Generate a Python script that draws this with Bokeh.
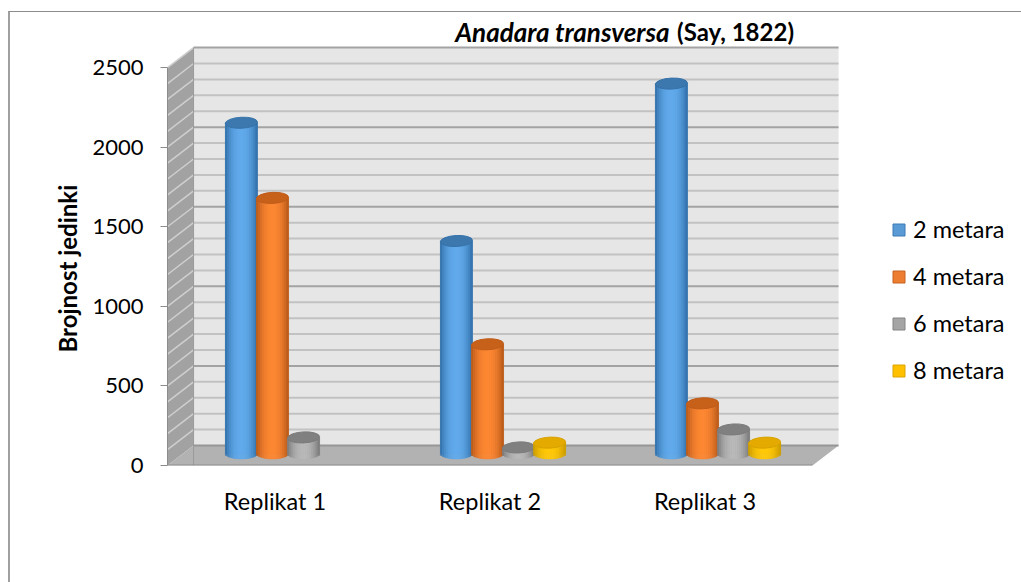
import numpy as np
from bokeh.embed import file_html
from bokeh.resources import INLINE
from bokeh.plotting import figure
from bokeh.models import (ColumnDataSource, FixedTicker, Label, Legend,
                          LegendItem, LinearAxis, Range1d, Title)

# ---- data ----
categories = ["Replikat 1", "Replikat 2", "Replikat 3"]
series_names = ["2 metara", "4 metara", "6 metara", "8 metara"]
metara_2 = [2078, 1335, 2324]
metara_4 = [1606, 686, 315]
metara_6 = [101, 38, 151]
metara_8 = [0, 68, 68]
y_ticks = [0, 500, 1000, 1500, 2000, 2500]
title_italic = "Anadara transversa"
title_plain = "(Say, 1822)"
y_title = "Brojnost jedinki"

series = [metara_2, metara_4, metara_6, metara_8]
colors = ["#5b9bd5", "#ed7d31", "#a5a5a5", "#ffc000"]
edge = ["#2f6da6", "#b4581a", "#767676", "#c99a00"]
mid = ["#62abec", "#fd8733", "#b9b9b9", "#ffc90a"]
cap = ["#3c78ad", "#c7611a", "#808080", "#e5aa00"]

# ---- layout (pixels on the page) ----
FONT = "Lato"
PX_X = 214.5      # px per category
PX_Y = 0.1588     # px per count
OX, OY = 10, 12   # where the figure's top-left corner sits on the page
FR_L, FR_R, FR_T, FR_B = 167, 1021, 13, 464
DX, DY = 26 / PX_X, 20 / PX_Y     # depth of the 3-D box, data units
BASE = 12 / PX_Y                  # cylinders stand half way into the box
BAR_DX = 31 / PX_X
BAR_A = 16 / PX_X
BAR_B = 5.5 / PX_Y
N_STRIP = 16

p = figure(width=1021 - OX, height=582 - OY, output_backend="svg", toolbar_location=None,
           x_axis_type=None, y_axis_type=None,
           x_range=Range1d(0, (FR_R - FR_L) / PX_X),
           y_range=Range1d(0, (FR_B - FR_T) / PX_Y),
           min_border_left=FR_L - OX, min_border_right=0,
           min_border_top=FR_T - OY, min_border_bottom=582 - FR_B)
p.outline_line_color = None
p.background_fill_color = None
p.border_fill_color = "white"
p.grid.visible = False
p.styles = {"position": "absolute", "left": f"{OX}px", "top": f"{OY}px",
            "border-left": "2px solid #a0a0a0", "border-top": "1px solid #8c8c8c",
            "margin-left": "-2px", "margin-top": "-1px", "box-sizing": "content-box"}


def xpx(v):
    return (v - FR_L) / PX_X


# 3-D box
W_TOP = 2500
W_R = 3.0
p.patch([DX, W_R + DX, W_R + DX, DX], [DY, DY, W_TOP + DY, W_TOP + DY],
        fill_color="#e6e6e6", line_color=None)
p.patch([0, DX, DX, 0], [0, DY, W_TOP + DY, W_TOP], fill_color="#a2a2a2", line_color=None)
p.patch([0, DX, W_R + DX, W_R], [0, DY, DY, 0], fill_color="#b2b2b2", line_color=None)

levels = list(range(100, 2600, 100))
minor = [v for v in levels if v % 500]
major = [v for v in levels if not v % 500]
for vals, col, lw in ((minor, "#c2c2c2", 2), (major, "#a3a3a3", 2)):
    ys = [v + DY for v in vals]
    p.segment([DX] * len(vals), ys, [W_R + DX] * len(vals), ys, line_color=col, line_width=lw)
    p.segment([0] * len(vals), vals, [DX] * len(vals), ys, line_color="#cfcfcf", line_width=1.5)
p.segment([DX], [DY], [W_R + DX], [DY], line_color="#969696", line_width=2)
p.segment([DX], [0], [DX], [W_TOP + DY], line_color="#9a9a9a", line_width=1)
p.segment([0], [0], [W_R], [0], line_color="#8c8c8c", line_width=2)


def mix(a, b, t):
    ca = [int(a[i:i + 2], 16) for i in (1, 3, 5)]
    cb = [int(b[i:i + 2], 16) for i in (1, 3, 5)]
    return "#%02x%02x%02x" % tuple(int(round(x + (y - x) * t)) for x, y in zip(ca, cb))


# cylinders
legend_items = []
for s, vals in enumerate(series):
    offs = (s - 1.5) * BAR_DX + DX / 2
    xc = np.array([i + 0.5 + offs for i in range(len(categories))])
    present = [(xi, v) for xi, v in zip(xc, vals) if v]
    base_r = p.vbar(x=[k[0] for k in present], width=2 * BAR_A * 0.98,
                    bottom=[BASE for k in present], top=[BASE + k[1] for k in present],
                    fill_color=colors[s], line_color=mix(edge[s], colors[s], 0.3), line_width=1)
    legend_items.append(LegendItem(label=series_names[s], renderers=[base_r]))
    left, right, bottom, top, col = [], [], [], [], []
    for k in range(N_STRIP):
        t0, t1 = -1 + 2 * k / N_STRIP, -1 + 2 * (k + 1) / N_STRIP
        tm = (t0 + t1) / 2
        shade = 1 - abs(tm) ** 2.2
        c = mix(edge[s], mid[s], shade)
        for xi, v in present:
            left.append(xi + t0 * BAR_A)
            right.append(xi + t1 * BAR_A)
            bottom.append(BASE - BAR_B * np.sqrt(1 - tm * tm))
            top.append(BASE + v)
            col.append(c)
    src = ColumnDataSource(dict(left=left, right=right, bottom=bottom, top=top, col=col))
    p.quad(left="left", right="right", bottom="bottom", top="top", fill_color="col",
           line_color="col", line_width=0.5, source=src)
    p.ellipse([k[0] for k in present], [BASE + k[1] for k in present], width=2 * BAR_A, height=2 * BAR_B,
              angle=0.05, fill_color=cap[s], line_color=mix(cap[s], edge[s], 0.5), line_width=1)

# axes
ay = LinearAxis(ticker=FixedTicker(ticks=y_ticks), bounds=(0, 2500),
                axis_line_color="#8c8c8c", major_tick_line_color="#8c8c8c",
                major_tick_in=0, major_tick_out=7, minor_tick_line_color=None,
                major_label_text_font=FONT, major_label_text_font_size="22px",
                major_label_text_color="#000000", major_label_standoff=17)
p.add_layout(ay, "left")
ax = LinearAxis(ticker=FixedTicker(ticks=[i + 0.5 for i in range(len(categories))]),
                major_label_overrides={i + 0.5: c for i, c in enumerate(categories)},
                axis_line_color=None, major_tick_line_color=None, minor_tick_line_color=None,
                major_label_text_font=FONT, major_label_text_font_size="23.5px",
                major_label_text_color="#000000", major_label_standoff=15)
p.add_layout(ax, "below")

# titles
p.add_layout(Title(text=y_title, align="left", offset=113, standoff=16, text_font=FONT,
                   text_font_style="bold", text_font_size="24px", text_color="#000000"), "left")
p.add_layout(Label(x=xpx(454), y=(464 - 31) / PX_Y, text=title_italic, text_align="left",
                   text_baseline="middle", text_font=FONT, text_font_style="bold italic",
                   text_font_size="26px", text_color="#000000"))
p.add_layout(Label(x=xpx(792), y=(464 - 31) / PX_Y, text=title_plain, text_align="right",
                   text_baseline="middle", text_font=FONT, text_font_style="bold",
                   text_font_size="24px", text_color="#000000"))

# legend
lg = Legend(items=legend_items, location=(891 - FR_L, 464 - 383), orientation="vertical",
            glyph_width=15, glyph_height=15, label_standoff=7, spacing=19,
            label_text_font=FONT, label_text_font_size="23.5px", label_text_color="#000000",
            border_line_color=None, background_fill_color=None, margin=0, padding=0,
            label_height=28)
p.add_layout(lg, "center")

open("out.html", "w").write(file_html(p, INLINE))
